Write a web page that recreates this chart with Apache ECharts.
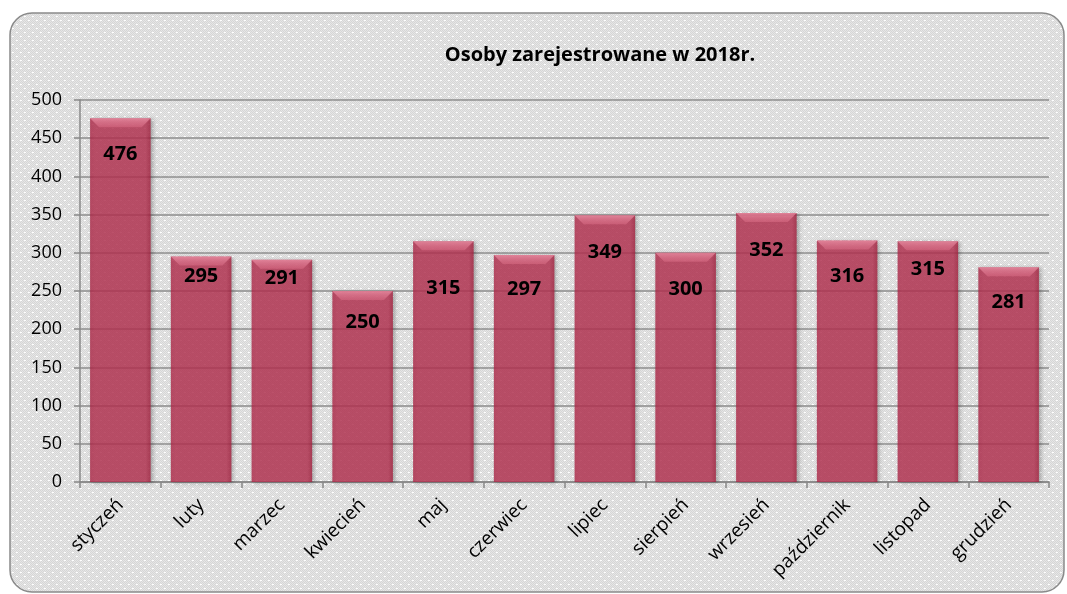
<!DOCTYPE html>
<html>
<head>
<meta charset="utf-8">
<script src="https://cdn.jsdelivr.net/npm/echarts@6/dist/echarts.min.js"></script>
<style>
  html, body { margin: 0; padding: 0; background: #fff; }
  #chart { width: 1067px; height: 594px; }
</style>
</head>
<body>
<div id="chart"></div>
<script>
const months = ['styczeń', 'luty', 'marzec', 'kwiecień', 'maj', 'czerwiec',
  'lipiec', 'sierpień', 'wrzesień', 'październik', 'listopad', 'grudzień']
const registered = [476, 295, 291, 250, 315, 297, 349, 300, 352, 316, 315, 281]
// how far below the bar top each label sits (px)
const labelDrop = [39, 23, 22, 34, 50, 37, 40, 39, 40, 39, 31, 38]

const font = '"Open Sans", "Noto Sans", sans-serif'

// dotted grey texture for the panel
const tex = document.createElement('canvas')
tex.width = 8
tex.height = 8
const tctx = tex.getContext('2d')
tctx.fillStyle = '#e6e6e6'
tctx.fillRect(0, 0, 8, 8)
tctx.fillStyle = '#d6d6d6'
for (let y = 0; y < 8; y++) {
  for (let x = 0; x < 8; x++) {
    if ((x + y) % 2 === 0) tctx.fillRect(x, y, 1, 1)
  }
}
tctx.fillStyle = '#ffffff'
tctx.fillRect(0, 0, 2, 1)
tctx.fillRect(4, 4, 2, 1)

const chart = echarts.init(document.getElementById('chart'))

chart.setOption({
  backgroundColor: '#fff',
  animation: false,
  graphic: [{
    type: 'rect',
    z: -10,
    shape: { x: 10, y: 13, width: 1054, height: 579, r: 22 },
    style: {
      fill: { image: tex, repeat: 'repeat' },
      stroke: '#8a8a8a',
      lineWidth: 1.5
    }
  }],
  title: {
    text: 'Osoby zarejestrowane w 2018r.',
    left: 595,
    top: 40,
    textAlign: 'center',
    textStyle: { fontFamily: font, fontSize: 20, fontWeight: 'bold', color: '#000' }
  },
  grid: { left: 80, right: 18, top: 100, bottom: 112 },
  xAxis: {
    type: 'category',
    data: months,
    axisLine: { lineStyle: { color: '#888', width: 1.5 } },
    axisTick: { show: true, length: 6, lineStyle: { color: '#888', width: 1.5 } },
    axisLabel: {
      rotate: 45,
      margin: 20,
      fontFamily: font,
      fontSize: 19,
      color: '#000'
    }
  },
  yAxis: {
    type: 'value',
    min: 0,
    max: 500,
    interval: 50,
    axisLine: { show: true, lineStyle: { color: '#888', width: 1.5 } },
    axisTick: { show: true, length: 6, lineStyle: { color: '#888', width: 1.5 } },
    axisLabel: { fontFamily: font, fontSize: 18, color: '#000', margin: 18 },
    splitLine: { lineStyle: { color: '#8c8c8c', width: 1.5 } }
  },
  series: [{
    type: 'bar',
    barCategoryGap: '25%',
    z: 3,
    data: registered.map((v, i) => ({
      value: v,
      label: { offset: [0, labelDrop[i] - 13] }
    })),
    itemStyle: {
      color: new echarts.graphic.LinearGradient(0, 0, 1, 0, [
        { offset: 0, color: 'rgba(170, 36, 68, 0.8)' },
        { offset: 0.08, color: 'rgba(188, 52, 84, 0.78)' },
        { offset: 0.92, color: 'rgba(188, 52, 84, 0.78)' },
        { offset: 1, color: 'rgba(165, 32, 62, 0.8)' }
      ]),
      shadowColor: 'rgba(0, 0, 0, 0.35)',
      shadowBlur: 4,
      shadowOffsetX: 2,
      shadowOffsetY: 1
    },
    label: {
      show: true,
      position: 'insideTop',
      distance: 0,
      fontFamily: font,
      fontSize: 20,
      fontWeight: 'bold',
      color: '#000'
    }
  }, {
    // lighter bevel on top of each bar
    type: 'custom',
    z: 4,
    silent: true,
    data: registered.map((v, i) => [i, v]),
    renderItem: (params, api) => {
      const top = api.coord([api.value(0), api.value(1)])
      const w = api.size([1, 0])[0] * 0.75
      const x0 = top[0] - w / 2
      const x1 = top[0] + w / 2
      const h = 9
      return {
        type: 'polygon',
        shape: { points: [[x0, top[1]], [x1, top[1]], [x1 - h, top[1] + h], [x0 + h, top[1] + h]] },
        style: {
          fill: new echarts.graphic.LinearGradient(0, 0, 0, 1, [
            { offset: 0, color: 'rgba(245, 160, 180, 0.6)' },
            { offset: 1, color: 'rgba(230, 120, 145, 0.4)' }
          ])
        }
      }
    }
  }]
})
</script>
</body>
</html>
